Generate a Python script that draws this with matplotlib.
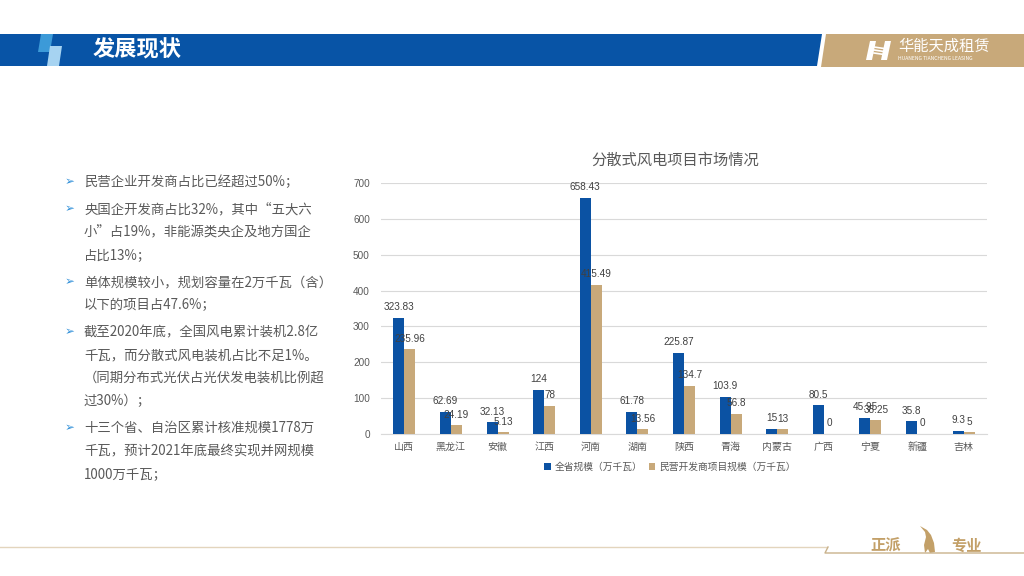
import matplotlib
matplotlib.use('Agg')
import numpy as np
import matplotlib.pyplot as plt
from matplotlib.patches import Polygon, Rectangle

plt.rcParams['font.family'] = ['Noto Sans CJK SC', 'DejaVu Sans']

# data
provinces = ['山西', '黑龙江', '安徽', '江西', '河南', '湖南', '陕西',
             '青海', '内蒙古', '广西', '宁夏', '新疆', '吉林']
total = [323.83, 62.69, 32.13, 124, 658.43, 61.78, 225.87,
         103.9, 15, 80.5, 45.95, 35.8, 9.3]
private = [235.96, 24.19, 5.13, 78, 415.49, 13.56, 134.7,
           56.8, 13, 0, 38.25, 0, 5]
series_names = ['全省规模（万千瓦）', '民营开发商项目规模（万千瓦）']
yticks = [0, 100, 200, 300, 400, 500, 600, 700]
chart_title = '分散式风电项目市场情况'
page_title = '发展现状'
logo_cn = '华能天成租赁'
logo_en = 'HUANENG TIANCHENG LEASING'
bullets = [
    ['民营企业开发商占比已经超过50%；'],
    ['央国企开发商占比32%，其中“五大六', '小”占19%，非能源类央企及地方国企', '占比13%；'],
    ['单体规模较小，规划容量在2万千瓦（含）', '以下的项目占47.6%；'],
    ['截至2020年底，全国风电累计装机2.8亿', '千瓦，而分散式风电装机占比不足1%。',
     '（同期分布式光伏占光伏发电装机比例超', '过30%）；'],
    ['十三个省、自治区累计核准规模1778万', '千瓦，预计2021年底最终实现并网规模', '1000万千瓦；'],
]

BLUE = '#0b52a3'
GOLD = '#c8a97a'
GREY = '#595959'

fig = plt.figure(figsize=(10.24, 5.76), dpi=100)

# page decoration, in pixel coords
bg = fig.add_axes([0, 0, 1, 1])
bg.set_xlim(0, 1024)
bg.set_ylim(576, 0)
bg.axis('off')

bg.add_patch(Polygon([(0, 34), (822, 34), (817, 66), (0, 66)], color='#0854a6', lw=0))
bg.add_patch(Polygon([(826, 34), (1024, 34), (1024, 67), (821, 67)], color=GOLD, lw=0))
bg.add_patch(Polygon([(41, 34), (53, 34), (50, 52), (38, 52)], color='#3c9ad8', lw=0))
bg.add_patch(Polygon([(50, 46), (62, 46), (59, 66), (47, 66)], color='#a6d3f1', lw=0))
bg.text(93, 50, page_title, color='white', fontsize=16, fontweight='bold', va='center', ha='left')

# logo
bg.add_patch(Polygon([(870, 41), (876, 41), (872, 60), (866, 60)], color='white', lw=0))
bg.add_patch(Polygon([(885, 41), (891, 41), (887, 60), (881, 60)], color='white', lw=0))
for yy in [47, 50, 53]:
    bg.plot([874, 884], [yy, yy + 1.5], color='white', lw=1.2)
bg.text(898, 46, logo_cn, color='white', fontsize=11, va='center', ha='left')
bg.text(898, 58.5, logo_en, color='white', fontsize=3.6, va='center', ha='left')

# footer
bg.plot([0, 827], [547, 547], color='#e3d5bd', lw=1)
bg.plot([828, 825, 1024], [547, 553, 553], color='#c9b28c', lw=1)
bg.text(886, 546, '正派', color='#c3a068', fontsize=11, fontweight='bold', va='center', ha='center')
bg.text(967, 546, '专业', color='#c3a068', fontsize=11, fontweight='bold', va='center', ha='center')
bg.add_patch(Polygon([(920, 526), (927, 530), (931, 535), (934, 543), (935, 552),
                      (930, 553), (928, 549), (925, 553), (924, 545), (926, 537), (925, 532)],
                     color='#c3a068', lw=0))

# bullet text
y = 182
for para in bullets:
    bg.text(70, y, '➢', color='#2f8fd8', fontsize=8.5, va='center', ha='center',
            family=['DejaVu Sans'])
    for line in para:
        bg.text(84, y, line, color=GREY, fontsize=9.6, va='center', ha='left')
        y += 23
    y += 4

# chart
ax = fig.add_axes([381 / 1024, 1 - 434 / 576, 606 / 1024, 251 / 576])
x = np.arange(len(provinces))
w = 0.236
b1 = ax.bar(x - w / 2, total, w, color=BLUE, label=series_names[0], zorder=3)
b2 = ax.bar(x + w / 2, private, w, color=GOLD, label=series_names[1], zorder=3)
for bars, vals in [(b1, total), (b2, private)]:
    for r, v in zip(bars, vals):
        ax.annotate('{:g}'.format(v), (r.get_x() + r.get_width() / 2, v),
                    xytext=(0, 4), textcoords='offset points', ha='center', va='bottom',
                    fontsize=7.2, color='#404040', family=['Liberation Sans'])

ax.set_xlim(-0.5, len(provinces) - 0.5)
ax.set_ylim(0, 700)
ax.set_yticks(yticks)
ax.set_xticks(x)
ax.set_xticklabels(provinces)
ax.tick_params(axis='both', length=0, labelsize=7.2, labelcolor=GREY)
ax.tick_params(axis='y', pad=8)
ax.tick_params(axis='x', pad=6)
for lab in ax.get_yticklabels():
    lab.set_family(['Liberation Sans'])
ax.grid(axis='y', color='#d9d9d9', lw=0.8, zorder=0)
for s in ['top', 'right', 'left']:
    ax.spines[s].set_visible(False)
ax.spines['bottom'].set_color('#d9d9d9')

fig.text(675 / 1024, 1 - 160 / 576, chart_title, fontsize=11, color=GREY, ha='center', va='center')
fig.legend(handles=[b1, b2], loc='center', bbox_to_anchor=(670 / 1024, 1 - 467 / 576),
           ncol=2, frameon=False, fontsize=7, handlelength=0.7, handleheight=0.7,
           handletextpad=0.4, columnspacing=0.6, labelcolor=GREY)

fig.savefig('out.png', dpi=100)
